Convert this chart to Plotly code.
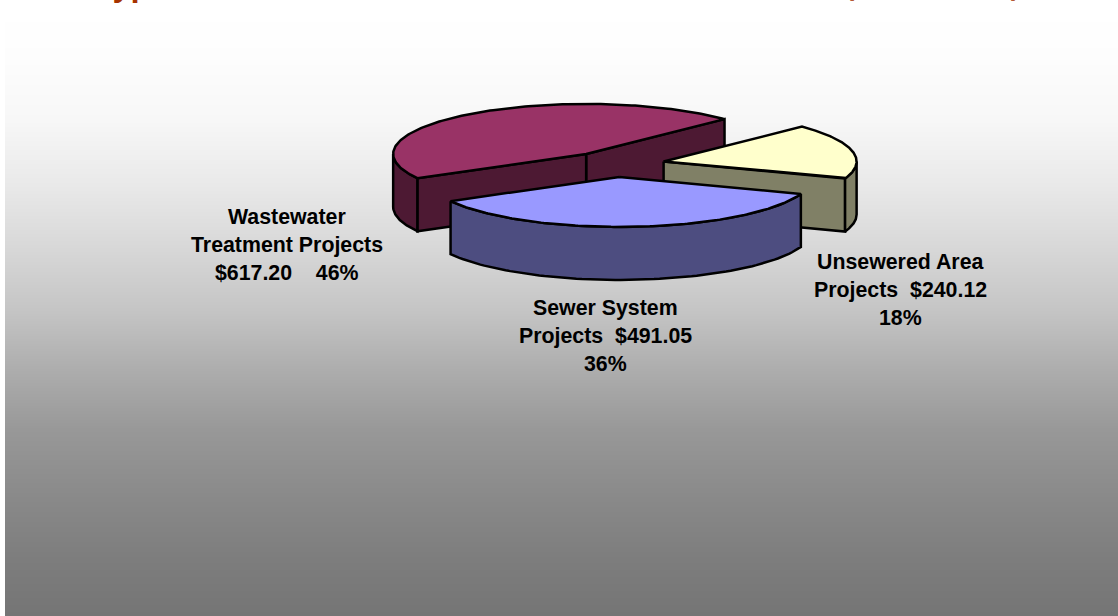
import math
import numpy as np
import plotly.graph_objects as go

# ---- data ----
categories = ["Wastewater Treatment Projects", "Sewer System Projects", "Unsewered Area Projects"]
values = [617.20, 491.05, 240.12]
label_lines = [
    ["Wastewater", "Treatment Projects", "$617.20\u00a0\u00a0\u00a0\u00a046%"],
    ["Sewer System", "Projects\u00a0\u00a0$491.05", "36%"],
    ["Unsewered Area", "Projects\u00a0\u00a0$240.12", "18%"],
]
title_left = "Types of Clean Water Loans Total"
title_right = "$1,348.37 (in Millions)"

# ---- styles / geometry ----
top_colors = ["#993366", "#9999FF", "#FFFFCC"]
wall_colors = ["#4D1933", "#4D4D80", "#808066"]
label_anchor = [(287, 217), (605, 308), (900, 262)]
line_step = 28
cx, cy = 615.5, 164.2        # pie centre (screen units)
rx, ry = 193, 50             # ellipse radii of the tilted pie
depth = 53                   # pie thickness
explode = 0.255
start_angle = 44.2           # first slice begins here (counter-clockwise)
draw_order = [0, 2, 1]

fig = go.Figure()

# background gradient
edges = list(range(9, 617, 1))
shade = [[i] for i in range(len(edges) - 1)]
grad_y = [9, 60, 120, 185, 250, 310, 370, 430, 500, 560, 616]
grad_gray = [255, 253, 247, 233, 215, 197, 173, 152, 137, 125, 117]
fig.add_trace(go.Heatmap(
    x=[5, 1118], y=edges, z=shade, showscale=False, hoverinfo="skip",
    colorscale=[[(y - 9) / 607, f"rgb({g},{g},{g})"] for y, g in zip(grad_y, grad_gray)],
))


def poly(xs, ys, color):
    fig.add_trace(go.Scatter(
        x=list(xs) + [xs[0]], y=list(ys) + [ys[0]], mode="lines", fill="toself",
        fillcolor=color, line=dict(color="#000000", width=2.5), hoverinfo="skip",
        showlegend=False,
    ))


total = sum(values)
spans = []
a = start_angle
for v in values:
    spans.append((a, a + v / total * 360))
    a += v / total * 360


def pt(c, t):
    r = math.radians(t)
    return c[0] + rx * math.cos(r), c[1] - ry * math.sin(r)


for i in draw_order:
    t0, t1 = spans[i]
    mid = math.radians((t0 + t1) / 2)
    c = (cx + explode * rx * math.cos(mid), cy - explode * ry * math.sin(mid))

    # cut faces that look toward the viewer
    for t, visible in ((t0, math.cos(math.radians(t0)) > 0), (t1, math.cos(math.radians(t1)) < 0)):
        if visible:
            p = pt(c, t)
            poly([c[0], p[0], p[0], c[0]], [c[1], p[1], p[1] + depth, c[1] + depth], wall_colors[i])

    # outer wall on the front half of the rim
    for lo, hi in ((180, 360), (540, 720)):
        a0, a1 = max(t0, lo), min(t1, hi)
        if a1 > a0:
            ts = np.linspace(a0, a1, 80)
            arc = [pt(c, t) for t in ts]
            xs = [p[0] for p in arc]
            ys = [p[1] for p in arc]
            poly(xs + xs[::-1], ys + [y + depth for y in ys[::-1]], wall_colors[i])

    # top face
    ts = np.linspace(t0, t1, 160)
    arc = [pt(c, t) for t in ts]
    poly([c[0]] + [p[0] for p in arc], [c[1]] + [p[1] for p in arc], top_colors[i])

annotations = []
for lines, (ax, ay) in zip(label_lines, label_anchor):
    for k, line in enumerate(lines):
        annotations.append(dict(
            x=ax, y=ay + k * line_step, text="<b>" + line + "</b>", showarrow=False,
            xanchor="center", yanchor="middle",
            font=dict(family="Liberation Sans", size=21.33, color="#000000"),
        ))

title_font = dict(family="Open Sans", size=30, color="#A63300")
annotations.append(dict(x=94, y=7, text="<b>" + title_left + "</b>", showarrow=False,
                        xanchor="left", yanchor="bottom", font=title_font))
annotations.append(dict(x=1022, y=7, text="<b>" + title_right + "</b>", showarrow=False,
                        xanchor="right", yanchor="bottom", font=title_font))

fig.update_layout(
    width=1118, height=616, autosize=False,
    margin=dict(l=0, r=0, t=0, b=0, pad=0),
    paper_bgcolor="#FFFFFF", plot_bgcolor="#FFFFFF",
    showlegend=False, annotations=annotations,
    xaxis=dict(range=[0, 1118], visible=False, fixedrange=True),
    yaxis=dict(range=[616, 0], visible=False, fixedrange=True),
)

fig.write_html("out.html", config={"displayModeBar": False},
               post_script="document.body.style.margin='0';")
